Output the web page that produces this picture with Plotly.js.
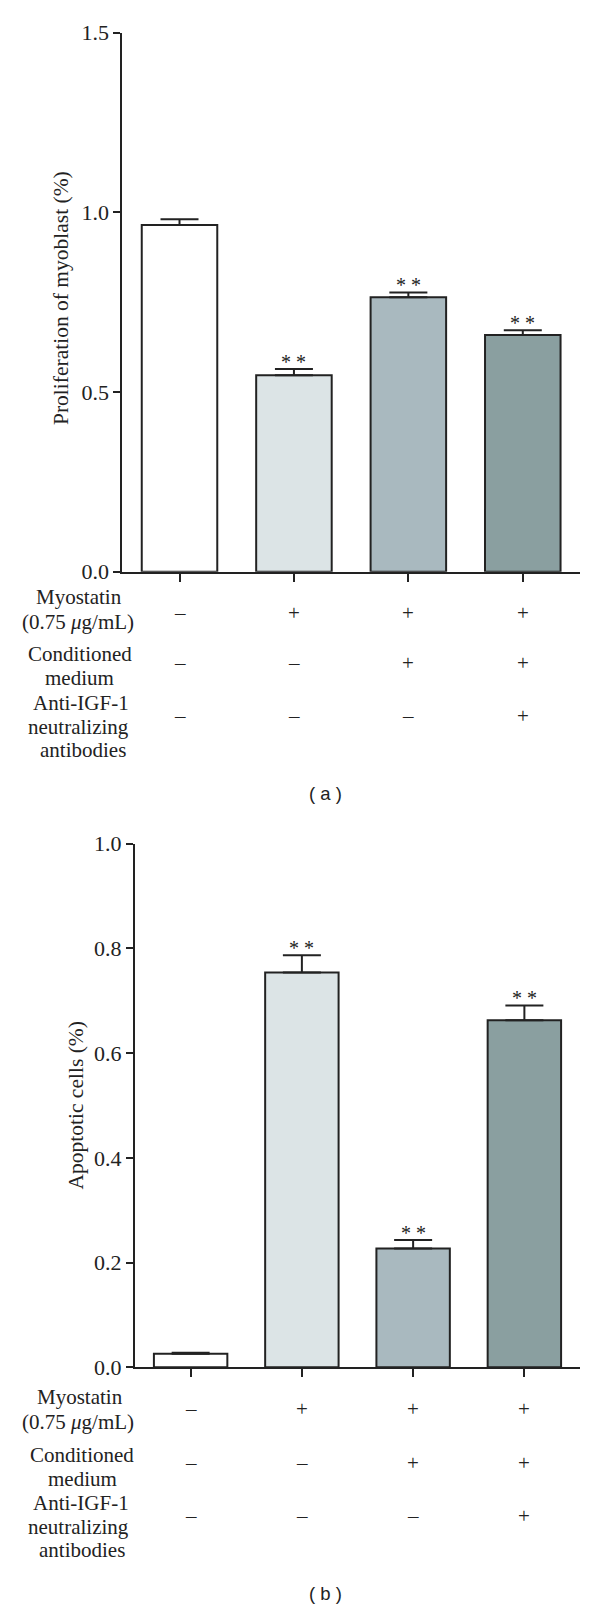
<!DOCTYPE html>
<html>
<head>
<meta charset="utf-8">
<script src="https://cdn.plot.ly/plotly-3.0.1.min.js"></script>
<style>html,body{margin:0;padding:0;background:#fff;}#chart{width:600px;height:1610px;}</style>
</head>
<body>
<div id="chart"></div>
<script>
// ---- data ----
const categories = [0, 1, 2, 3];
const proliferation = [0.965, 0.547, 0.764, 0.659];
const proliferationErr = [0.016, 0.017, 0.013, 0.013];
const proliferationSig = ['', '**', '**', '**'];
const apoptotic = [0.026, 0.754, 0.227, 0.663];
const apoptoticErr = [0.002, 0.033, 0.016, 0.028];
const apoptoticSig = ['', '**', '**', '**'];
const barColors = ['#ffffff', '#dce4e6', '#a9b9bf', '#8a9fa0'];
const rowMyostatin = ['–', '+', '+', '+'];
const rowConditioned = ['–', '–', '+', '+'];
const rowAntiIGF = ['–', '–', '–', '+'];
const yTitleA = 'Proliferation of myoblast (%)';
const yTitleB = 'Apoptotic cells (%)';
const panelA = '( a )';
const panelB = '( b )';

// ---- layout helpers ----
const W = 600, H = 1610;
const py = p => 1 - p / H;
const px = p => p / W;
const serif = 'Liberation Serif, Times New Roman, serif';
const ink = '#222';
const LABEL = 21;

function barTrace(vals, errs, xa, ya) {
  return {
    type: 'bar', x: categories, y: vals, width: 0.66,
    xaxis: xa, yaxis: ya,
    marker: {color: barColors, line: {color: ink, width: 2}},
    error_y: {type: 'data', symmetric: false, array: errs,
              arrayminus: errs.map(() => 0), width: 19, thickness: 2, color: ink},
    hoverinfo: 'skip', showlegend: false
  };
}

const annotations = [];
function sigAnn(vals, errs, sig, xr, yr) {
  sig.forEach((s, i) => {
    if (!s) return;
    annotations.push({xref: xr, yref: yr, x: categories[i], y: vals[i] + errs[i],
      text: s.split('').join(' '), showarrow: false, yanchor: 'middle', yshift: 7,
      font: {family: serif, size: 20, color: ink}});
  });
}
sigAnn(proliferation, proliferationErr, proliferationSig, 'x', 'y');
sigAnn(apoptotic, apoptoticErr, apoptoticSig, 'x2', 'y2');

function label(text, xc, yc, size, fam) {
  annotations.push({xref: 'paper', yref: 'paper', x: px(xc), y: py(yc), text: text,
    showarrow: false, xanchor: 'center', yanchor: 'middle', borderpad: 0,
    font: {family: fam || serif, size: size || LABEL, color: ink}});
}
function signRow(row, xr, yc) {
  row.forEach((s, i) => {
    annotations.push({xref: xr, yref: 'paper', x: categories[i], y: py(yc), text: s,
      showarrow: false, xanchor: 'center', yanchor: 'middle', borderpad: 0,
      font: {family: serif, size: LABEL, color: ink}});
  });
}

// panel a labels
label('Myostatin', 79, 597);
label('(0.75 <i>μ</i>g/mL)', 78, 622);
label('Conditioned', 79.5, 654);
label('medium', 79.5, 678);
label('Anti-IGF-1', 81, 703);
label('neutralizing', 79, 726.5);
label('antibodies', 83, 750);
signRow(rowMyostatin, 'x', 612.7);
signRow(rowConditioned, 'x', 662.7);
signRow(rowAntiIGF, 'x', 716);
label(panelA, 325, 793, 18.5, 'Liberation Sans, Arial, sans-serif');
// panel b labels
label('Myostatin', 80, 1397.3);
label('(0.75 <i>μ</i>g/mL)', 78, 1422);
label('Conditioned', 82, 1454.5);
label('medium', 82, 1478.5);
label('Anti-IGF-1', 81, 1503);
label('neutralizing', 78, 1526.5);
label('antibodies', 82, 1550);
signRow(rowMyostatin, 'x2', 1409.3);
signRow(rowConditioned, 'x2', 1462.7);
signRow(rowAntiIGF, 'x2', 1516);
label(panelB, 325, 1593.3, 18.5, 'Liberation Sans, Arial, sans-serif');

// y titles
annotations.push({xref: 'paper', yref: 'paper', x: px(61), y: py(298), text: yTitleA,
  textangle: -90, showarrow: false, xanchor: 'center', yanchor: 'middle',
  font: {family: serif, size: 21.5, color: ink}});
annotations.push({xref: 'paper', yref: 'paper', x: px(75), y: py(1105.5), text: yTitleB,
  textangle: -90, showarrow: false, xanchor: 'center', yanchor: 'middle',
  font: {family: serif, size: 21.5, color: ink}});

const xCommon = {range: [-0.5, 3.5], showline: true, linecolor: ink, linewidth: 2,
  ticks: 'outside', ticklen: 8, tickwidth: 2, tickcolor: ink, tickvals: categories,
  showticklabels: false, showgrid: false, zeroline: false, fixedrange: true};
const yCommon = {showline: true, linecolor: ink, linewidth: 2, ticks: 'outside',
  ticklen: 7, tickwidth: 2, tickcolor: ink, showgrid: false, zeroline: false,
  tickformat: '.1f', tickfont: {family: serif, size: 22, color: ink}, fixedrange: true};

const layout = {
  width: W, height: H, margin: {l: 0, r: 0, t: 0, b: 0},
  paper_bgcolor: '#fff', plot_bgcolor: '#fff', showlegend: false,
  bargap: 0.34,
  xaxis: Object.assign({}, xCommon, {domain: [px(122.3), px(580)], anchor: 'y'}),
  yaxis: Object.assign({}, yCommon, {domain: [py(571.7), py(32.7)], range: [0, 1.5],
    dtick: 0.5, tick0: 0, anchor: 'x'}),
  xaxis2: Object.assign({}, xCommon, {domain: [px(135), px(580)], anchor: 'y2'}),
  yaxis2: Object.assign({}, yCommon, {domain: [py(1367.3), py(843.7)], range: [0, 1],
    dtick: 0.2, tick0: 0, anchor: 'x2'}),
  annotations: annotations
};

Plotly.newPlot('chart', [
  barTrace(proliferation, proliferationErr, 'x', 'y'),
  barTrace(apoptotic, apoptoticErr, 'x2', 'y2')
], layout, {staticPlot: true, displayModeBar: false});
</script>
</body>
</html>
